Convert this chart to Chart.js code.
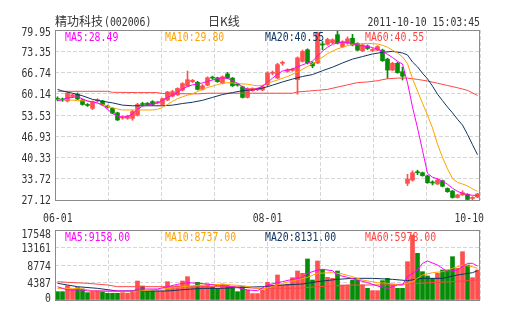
<!DOCTYPE html>
<html>
<head>
<meta charset="utf-8">
<script src="https://cdn.jsdelivr.net/npm/chart.js@4/dist/chart.umd.min.js"></script>
<style>
  body { margin: 0; background: #fff; }
  #wrap { position: relative; width: 505px; height: 330px; }
  #kline { position: absolute; left: 0; top: 0; }
  #vol { position: absolute; left: 0; top: 225px; }
</style>
</head>
<body>
<div id="wrap">
  <canvas id="kline" width="505" height="225"></canvas>
  <canvas id="vol" width="505" height="105"></canvas>
</div>
<script>
// daily candles, 06-01 .. 10-10
const openP = [58.7,58.4,57.9,59.3,60.0,58.2,56.8,55.6,57.9,57.9,
  56.3,55.6,54.2,52.6,52.5,52.5,53.5,57.0,57.2,57.7,
  57.3,56.8,58.2,59.4,59.8,61.3,62.5,63.9,63.7,61.5,
  62.8,65.2,65.1,63.4,66.3,65.0,63.0,62.3,59.0,61.1,
  61.4,61.3,63.0,66.5,65.0,69.6,67.1,67.4,64.5,70.2,
  73.8,69.7,69.7,75.5,75.5,76.0,78.5,74.8,75.8,77.4,
  75.8,73.5,75.0,73.6,73.7,73.7,70.9,67.5,69.6,67.0,
  32.3,33.3,35.8,35.6,34.6,32.6,32.1,33.1,30.7,29.9,
  27.9,28.7,28.9,27.6,28.0];
const closeP = [58.4,58.2,60.3,59.8,58.5,56.8,56.5,57.7,58.3,56.7,
  56.0,54.1,52.0,52.8,53.2,54.6,56.8,56.8,56.7,56.8,
  57.5,58.6,60.7,60.8,61.8,63.3,64.5,64.3,61.5,62.6,
  65.1,65.0,63.9,65.4,65.0,62.6,62.8,59.0,61.8,61.8,
  61.6,62.3,66.6,66.7,69.2,69.8,67.6,67.8,71.3,73.3,
  69.7,68.8,79.0,75.3,77.0,76.9,75.9,76.3,77.2,75.3,
  73.7,75.3,74.2,73.8,74.8,70.4,67.5,69.6,66.7,65.6,
  33.6,35.6,35.6,34.7,32.5,32.4,33.3,31.4,29.7,27.9,
  28.7,29.4,27.3,27.7,29.0];
const highP = [59.2,58.8,60.6,60.1,60.4,58.4,57.1,57.9,58.6,58.1,
  56.6,55.8,54.4,53.2,53.5,55.0,57.2,57.5,57.4,58.0,
  57.8,58.8,60.9,61.2,62.0,63.6,67.2,64.6,64.0,63.0,
  65.4,65.6,65.3,65.7,66.8,65.2,63.4,62.5,62.0,62.0,
  61.9,62.6,67.0,67.2,69.6,70.3,67.9,68.1,71.6,73.7,
  74.1,70.0,79.3,76.4,77.4,77.2,79.9,76.6,77.8,78.6,
  76.0,75.6,75.3,74.2,75.1,74.0,71.2,69.9,69.9,68.4,
  35.1,36.2,36.4,35.8,34.8,33.1,33.8,33.3,30.9,30.1,
  28.9,30.0,29.1,28.2,29.2];
const lowP = [58.0,57.8,57.6,59.0,58.3,56.6,56.2,55.2,57.6,56.5,
  55.7,53.9,51.8,52.2,52.2,51.9,53.2,56.4,56.5,56.6,
  57.0,56.6,58.0,59.2,59.6,61.0,62.3,63.6,61.3,61.3,
  62.6,64.6,63.7,63.2,64.8,62.4,62.5,58.8,58.8,60.9,
  61.1,61.1,62.6,66.0,64.8,69.0,66.8,67.1,60.0,70.0,
  69.4,68.2,69.5,73.8,75.2,75.7,75.6,74.5,75.5,75.0,
  73.5,73.2,73.9,73.2,73.5,70.2,64.9,67.3,66.5,64.4,
  31.6,33.0,35.0,34.5,32.3,31.8,31.9,31.2,29.5,27.7,
  27.7,28.5,27.2,27.2,27.8];
const volume = [2090,2090,3590,2670,3090,2760,1840,2090,2260,2090,
  1670,1670,1670,1840,1670,2260,4760,3510,2260,2260,
  2260,2260,4590,3180,3590,4760,5850,3340,4430,3590,
  4010,3180,2920,4010,3590,3340,2090,3340,2510,1600,
  1600,2510,4430,3760,6270,3760,4010,5600,7270,6680,
  10280,5010,9780,7690,5680,5430,7270,3760,3760,5010,
  5010,3760,2920,2340,2340,4850,5430,3760,2920,2920,
  9610,16300,11700,7100,6020,5430,6680,7520,7520,10860,
  7940,12110,8770,5600,7520];

// moving averages as [day, value]
const ma5 = [[0,57.9],[2,58.8],[4,59.2],[6,57.9],[8,57.3],[9,56.6],[10,55.3],[11,54.0],[12,53.2],[13,52.9],
  [14,53.0],[15,53.9],[16,55.3],[17,56.3],[19,56.9],[20,57.3],[21,58.1],[22,59.0],[23,59.7],[24,60.6],
  [25,61.6],[26,62.4],[27,62.9],[29,63.5],[31,64.4],[33,65.1],[34,64.9],[35,64.2],[36,63.4],[37,62.3],
  [38,61.5],[39,61.3],[40,61.8],[41,62.5],[42,63.6],[43,65.0],[44,66.2],[45,67.2],[47,67.8],[48,68.5],
  [50,69.7],[51,70.3],[52,71.8],[53,73.4],[54,74.6],[55,75.5],[56,75.9],[57,76.2],[58,76.1],[59,75.7],
  [60,75.3],[61,75.0],[62,74.8],[63,74.5],[64,74.0],[65,73.3],[66,72.4],[67,71.4],[68,70.2],[69,69.4],
  [70,63.5],[71,56.0],[72,49.5],[73,42.5],[74,35.4],[75,34.2],[76,33.7],[77,33.0],[78,32.0],[79,30.8],
  [80,29.8],[81,29.2],[82,28.8],[83,28.6],[84,28.5]];
const ma10 = [[0,58.4],[2,58.3],[4,58.0],[6,57.9],[7,57.6],[8,57.2],[9,56.8],[10,56.3],[11,55.8],[12,55.4],
  [13,55.1],[16,55.1],[19,55.1],[20,55.3],[21,55.9],[22,56.8],[23,57.8],[24,58.6],[25,59.2],[26,59.7],
  [27,60.1],[28,60.8],[29,61.5],[30,62.1],[31,62.5],[32,63.0],[33,63.4],[34,63.6],[35,63.5],[36,63.3],
  [38,63.1],[39,62.8],[40,62.6],[41,62.8],[42,63.4],[44,64.4],[46,65.5],[48,66.9],[50,68.6],[52,70.4],
  [54,72.6],[56,74.1],[58,75.1],[60,75.6],[62,75.8],[64,75.6],[65,75.2],[66,74.6],[67,73.7],[68,72.8],
  [69,71.6],[70,69.5],[71,64.8],[72,61.0],[73,57.2],[74,53.5],[75,49.5],[76,44.5],[77,40.3],[78,36.8],
  [79,33.8],[80,32.6],[81,32.1],[82,31.5],[83,30.6],[84,29.8]];
const ma20 = [[0,61.5],[1,61.0],[3,60.3],[5,59.5],[7,58.4],[9,57.8],[11,57.3],[13,56.6],[15,56.4],[21,56.4],
  [23,56.6],[25,57.1],[27,57.5],[29,58.1],[31,59.0],[33,59.9],[35,60.5],[37,61.1],[39,61.4],[41,61.9],
  [43,62.8],[45,63.8],[47,64.7],[49,65.5],[51,66.1],[53,67.3],[55,68.4],[57,69.7],[59,70.9],[61,71.7],
  [63,72.5],[65,73.0],[67,73.3],[69,72.8],[70,72.2],[71,70.0],[72,68.5],[73,66.5],[74,64.8],[75,62.5],
  [76,60.0],[77,58.0],[78,56.0],[79,54.2],[80,52.2],[81,50.4],[82,47.5],[83,44.3],[84,41.2]];
const ma60 = [[0,60.9],[10,60.9],[11,60.6],[16,60.5],[20,60.5],[21,60.2],[28,60.1],[30,60.3],[47,60.3],[48,60.7],
  [52,61.2],[54,61.5],[56,62.2],[58,62.9],[60,63.6],[62,63.8],[64,64.2],[66,64.8],[68,65.0],[70,65.0],
  [72,64.6],[74,64.1],[76,63.4],[78,62.7],[80,62.0],[82,61.2],[84,59.6]];

const volMa5 = [[0,3340],[1,2920],[2,2510],[5,2510],[6,2260],[15,2260],[16,2760],[20,2760],[22,3340],[24,3930],
  [26,4350],[28,4180],[30,4010],[32,3590],[34,3510],[36,3090],[38,2510],[40,2340],[42,3760],[44,4350],
  [45,4600],[47,5180],[49,5680],[50,6690],[52,7520],[53,7690],[55,7350],[56,6270],[58,5680],[60,5010],
  [62,4350],[64,3510],[66,2920],[68,3760],[69,3760],[70,5850],[72,7520],[73,9190],[74,9780],[76,8770],
  [78,7100],[80,7520],[82,9190],[83,9190],[84,8520]];
const volMa10 = [[0,2920],[3,2920],[5,2760],[7,2340],[11,2090],[15,2090],[17,2340],[21,2760],[25,3340],[27,3590],
  [29,3760],[33,3930],[37,3590],[39,3180],[41,2760],[43,3340],[45,4180],[47,4770],[50,5680],[52,6690],
  [55,6850],[57,6520],[59,5850],[61,5010],[64,4350],[66,4180],[69,3760],[71,4600],[73,6270],[75,6850],
  [77,7100],[79,7940],[81,8770],[83,8360],[84,7940]];
const volMa20 = [[0,4180],[2,3760],[4,3340],[8,2920],[12,2260],[22,2260],[25,2590],[29,2920],[33,2920],[37,3180],
  [41,3340],[45,3760],[49,4010],[52,4600],[56,5180],[59,5430],[63,5430],[67,5180],[70,4850],[73,5430],
  [77,5430],[80,6270],[83,6850],[84,7350]];
const volMa60 = [[0,4600],[2,4430],[6,4180],[10,3760],[12,3340],[36,3340],[38,3090],[40,2920],[48,2920],[52,3340],
  [59,3760],[66,3760],[72,4180],[79,4600],[84,5010]];

const priceTicks = [27.12, 33.72, 40.33, 46.93, 53.53, 60.14, 66.74, 73.35, 79.95];
const volTicks = [0, 4387, 8774, 13161, 17548];
const dateIdx = [0, 42, 84];
const dateText = ['06-01', '08-01', '10-10'];

const priceLegend = ['MA5:28.49', 'MA10:29.80', 'MA20:40.55', 'MA60:40.55'];
const volLegend = ['MA5:9158.00', 'MA10:8737.00', 'MA20:8131.00', 'MA60:5978.00'];

const UP = '#ff4f4f', DOWN = '#078c07';
const MA_COLORS = ['#ff00ff', '#ffa200', '#0f3563', '#ff4646'];
const TEXT = '#333';
const GRID = '#d6d6d6';
const FRAME = '#8a8a8a';

const upDay = openP.map((o, i) => closeP[i] >= o);
const barColors = upDay.map(u => u ? UP : DOWN);

// narrow monospace text, close to a bitmap song typeface
function monoText(ctx, txt, x, y, color, align) {
  ctx.save();
  ctx.font = '12px "DejaVu Sans Mono"';
  ctx.fillStyle = color;
  ctx.textBaseline = 'alphabetic';
  const w = ctx.measureText(txt).width * 0.82;
  let x0 = x;
  if (align === 'right') x0 = x - w;
  if (align === 'center') x0 = x - w / 2;
  ctx.translate(x0, y);
  ctx.scale(0.82, 1);
  ctx.fillText(txt, 0, 0);
  ctx.restore();
  return w;
}

function cjkText(ctx, txt, x, y) {
  ctx.save();
  ctx.font = '12px "Noto Sans CJK SC"';
  ctx.fillStyle = TEXT;
  ctx.textBaseline = 'alphabetic';
  ctx.fillText(txt, x, y);
  ctx.restore();
}

function line(data, color) {
  return {
    type: 'line',
    data: data.map(p => ({ x: p[0], y: p[1] })),
    borderColor: color,
    borderWidth: 1,
    pointRadius: 0,
    tension: 0,
    order: 0
  };
}

function gridTicks(scale) {
  const out = [];
  for (let k = 0; k <= 8; k++) out.push({ value: -0.5 + k * 85 / 8 });
  scale.ticks = out;
}

// frame, y labels and in-plot legend
function panelPlugin(yLabel, legend, legendY, edge) {
  return {
    id: 'panel',
    afterDraw(chart) {
      const ctx = chart.ctx;
      const a = chart.chartArea;
      ctx.save();
      ctx.strokeStyle = FRAME;
      ctx.lineWidth = 1;
      ctx.strokeRect(a.left + 0.5, a.top + 0.5, a.right - a.left - 1, a.bottom - a.top);
      ctx.restore();

      const ys = chart.scales.y;
      ys.ticks.forEach(t => {
        let py = ys.getPixelForValue(t.value);
        py = Math.min(Math.max(py, a.top + edge), a.bottom - edge);
        monoText(ctx, yLabel(t.value), 51, py + 4.5, TEXT, 'right');
      });

      legend.forEach((s, k) => monoText(ctx, s, 65 + k * 100, legendY, MA_COLORS[k]));
    }
  };
}

const titlePlugin = {
  id: 'titles',
  afterDraw(chart) {
    const ctx = chart.ctx;
    const a = chart.chartArea;
    cjkText(ctx, '精功科技', 55, 25.5);
    monoText(ctx, '(002006)', 104, 26, TEXT);
    cjkText(ctx, '日K线', 208, 25.5);
    monoText(ctx, '2011-10-10 15:03:45', 480, 26, TEXT, 'right');

    const xs = chart.scales.x;
    ctx.save();
    ctx.font = '12px "DejaVu Sans Mono"';
    const w = ctx.measureText('00-00').width * 0.82;
    ctx.restore();
    dateIdx.forEach((d, k) => {
      let cx = xs.getPixelForValue(d);
      cx = Math.max(cx, a.left - 12 + w / 2);
      cx = Math.min(cx, a.right + 4 - w / 2);
      monoText(ctx, dateText[k], cx, 221.5, TEXT, 'center');
    });
  }
};

const xAxis = (h) => ({
  type: 'linear',
  min: -0.5,
  max: 84.5,
  offset: false,
  afterBuildTicks: gridTicks,
  afterFit(s) { s.height = h; },
  ticks: { display: false },
  grid: { color: GRID, drawTicks: false, offset: false },
  border: { display: false, dash: [4, 2] }
});

const yAxis = (min, max, list) => ({
  min: min,
  max: max,
  beginAtZero: false,
  afterBuildTicks(s) { s.ticks = list.map(v => ({ value: v })); },
  afterFit(s) { s.width = 55; },
  ticks: { display: false },
  grid: { color: GRID, drawTicks: false },
  border: { display: false, dash: [4, 2] }
});

const common = {
  responsive: false,
  animation: false,
  events: [],
  plugins: { legend: { display: false }, tooltip: { enabled: false } }
};

new Chart(document.getElementById('kline'), {
  type: 'bar',
  data: {
    datasets: [
      line(ma5, MA_COLORS[0]),
      line(ma10, MA_COLORS[1]),
      line(ma20, MA_COLORS[2]),
      line(ma60, MA_COLORS[3]),
      {
        data: openP.map((o, i) => ({ x: i, y: [o, closeP[i]] })),
        backgroundColor: barColors,
        barThickness: 4,
        minBarLength: 1,
        grouped: false,
        borderWidth: 0,
        order: 2
      },
      {
        data: lowP.map((l, i) => ({ x: i, y: [l, highP[i]] })),
        backgroundColor: barColors,
        barThickness: 1,
        grouped: false,
        borderWidth: 0,
        order: 3
      }
    ]
  },
  options: Object.assign({}, common, {
    layout: { padding: { top: 30, right: 25, left: 0, bottom: 0 }, autoPadding: false },
    scales: {
      x: xAxis(25),
      y: yAxis(27.12, 79.95, priceTicks)
    }
  }),
  plugins: [panelPlugin(v => v.toFixed(2), priceLegend, 40.5, 1), titlePlugin]
});

new Chart(document.getElementById('vol'), {
  type: 'bar',
  data: {
    datasets: [
      line(volMa5, MA_COLORS[0]),
      line(volMa10, MA_COLORS[1]),
      line(volMa20, MA_COLORS[2]),
      line(volMa60, MA_COLORS[3]),
      {
        data: volume.map((v, i) => ({ x: i, y: v })),
        backgroundColor: barColors,
        barThickness: 4,
        grouped: false,
        borderWidth: 0,
        order: 2
      }
    ]
  },
  options: Object.assign({}, common, {
    layout: { padding: { top: 5, right: 25, left: 0, bottom: 0 }, autoPadding: false },
    scales: {
      x: xAxis(30),
      y: yAxis(0, 17548, volTicks)
    }
  }),
  plugins: [panelPlugin(v => String(v), volLegend, 15.7, 3)]
});
</script>
</body>
</html>
